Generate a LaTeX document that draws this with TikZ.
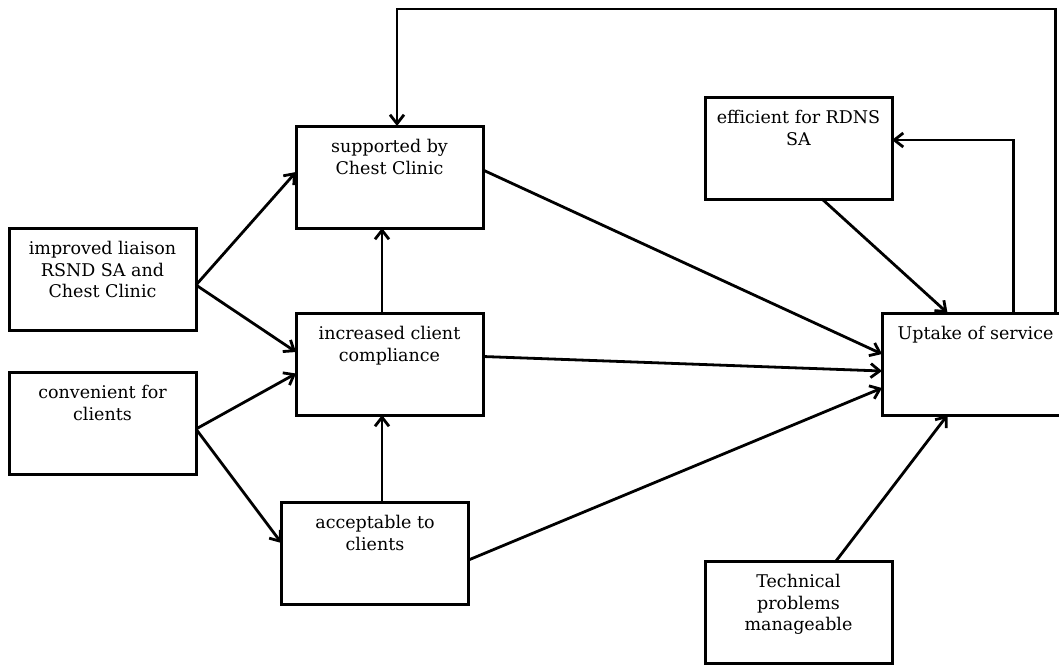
\documentclass[tikz,border=0pt]{standalone}
\usepackage{fontspec}
\setmainfont{DejaVu Serif}
\usetikzlibrary{arrows.meta,positioning}

\begin{document}
\begin{tikzpicture}[
  x=1pt, y=1pt,
  >={Straight Barb[length=9pt,width=14pt]},
  factor/.style={
    rectangle, draw, line width=3pt, outer sep=0pt,
    minimum width=187pt, minimum height=102pt,
    inner xsep=8.5pt, inner ysep=11.45pt,
    font=\fontsize{17.5}{21.5}\selectfont,
    execute at begin node={\begin{minipage}[t][79.1pt][t]{170pt}\centering\strut},
    execute at end node={\end{minipage}}
  },
  arr/.style={->, line width=2.8pt},
]
\useasboundingbox (0,0) rectangle (1059,-664);

%% Left column
\node[factor] at (102.5,-279)               (liaison) {improved liaison\\RSND SA and\\Chest Clinic};
\node[factor, below=42pt of liaison]        (conv)    {convenient for\\clients};

%% Middle column
\node[factor, anchor=south west] at ([xshift=100pt]liaison.north east) (sup) {supported by\\Chest Clinic};
\node[factor, below=85pt of sup]            (comp)    {increased client\\compliance};
\node[factor, below=87pt of comp, xshift=-14.5pt] (acc) {acceptable to\\clients};

%% Right side
\node[factor, right=399pt of comp]          (uptake)  {Uptake of service};
\node[factor] at (798.5,-148)               (eff)     {efficient for RDNS\\SA};
\node[factor] at (798.5,-612)               (tech)    {Technical\\problems\\manageable};

%% Arrows into the middle column
\draw[arr] ([yshift=-6pt]liaison.east) -- ([yshift=5pt]sup.west);
\draw[arr] ([yshift=-6pt]liaison.east) -- ([yshift=12pt]comp.west);
\draw[arr] ([yshift=-6pt]conv.east)    -- ([yshift=-9.5pt]comp.west);
\draw[arr] ([yshift=-6pt]conv.east)    -- ([yshift=10pt]acc.west);
\draw[arr] ([xshift=-7.5pt]comp.north) -- ([xshift=-7.5pt]sup.south);
\draw[arr] ([xshift=7pt]acc.north)     -- ([xshift=7pt]acc.north |- comp.south);

%% Arrows into the uptake
\draw[arr] ([yshift=7pt]sup.east)      -- ([yshift=10pt]uptake.west);
\draw[arr] ([yshift=7.5pt]comp.east)   -- ([yshift=-7pt]uptake.west);
\draw[arr] ([yshift=-7pt]acc.east)     -- ([yshift=-24pt]uptake.west);
\draw[arr] ([xshift=23.5pt]eff.south)  -- ([xshift=-28pt]uptake.north);
\draw[arr] ([xshift=37.5pt]tech.north) -- ([xshift=-28pt]uptake.south);

%% Feedback loops
\draw[arr] ([xshift=38pt]uptake.north) |- ([yshift=8pt]eff.east);
\draw[arr] ([xshift=80pt]uptake.north) -- ++(0,304) -| ([xshift=7.5pt]sup.north);

\end{tikzpicture}
\end{document}
